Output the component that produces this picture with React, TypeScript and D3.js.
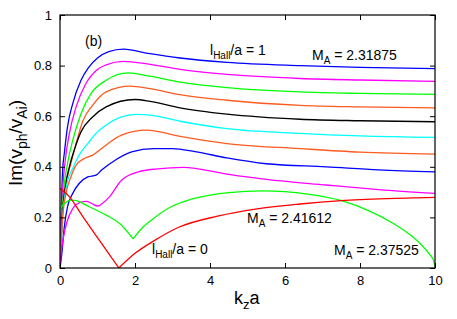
import { useEffect, useRef } from 'react'
import * as d3 from 'd3'

const WIDTH = 457
const HEIGHT = 319
const MARGIN = { top: 15, right: 22, bottom: 51, left: 60 }
const FONT = '"Liberation Sans", Arial, Helvetica, sans-serif'

type Pt = [number, number]

// curves, from l_Hall/a = 1 (top) down to l_Hall/a = 0
const hall10: Pt[] = [[0, 0], [0.03, 0.2], [0.07, 0.387], [0.115, 0.453], [0.2, 0.558], [0.34, 0.65], [0.56, 0.742], [0.75, 0.79], [1.0, 0.83], [1.3, 0.855], [1.69, 0.865], [2.4, 0.847], [3.2, 0.83], [4.45, 0.813], [6.4, 0.8], [8, 0.793], [10, 0.788]]
const hall09: Pt[] = [[0, 0], [0.04, 0.2], [0.08, 0.33], [0.14, 0.426], [0.25, 0.532], [0.43, 0.637], [0.69, 0.729], [1.0, 0.785], [1.23, 0.803], [1.69, 0.817], [2.4, 0.805], [3.2, 0.785], [4.45, 0.765], [6.4, 0.749], [8, 0.743], [10, 0.738]]
const hall08: Pt[] = [[0, 0], [0.05, 0.2], [0.1, 0.31], [0.2, 0.413], [0.34, 0.505], [0.56, 0.61], [0.83, 0.69], [1.23, 0.742], [1.82, 0.771], [2.4, 0.758], [3.2, 0.735], [4.45, 0.713], [6.4, 0.696], [8, 0.69], [10, 0.686]]
const hall07: Pt[] = [[0, 0], [0.06, 0.2], [0.15, 0.32], [0.29, 0.413], [0.43, 0.492], [0.6, 0.578], [0.87, 0.643], [1.23, 0.696], [1.87, 0.719], [2.4, 0.709], [3.2, 0.685], [4.45, 0.663], [6.4, 0.643], [8, 0.637], [10, 0.633]]
const hall06: Pt[] = [[0, 0], [0.06, 0.2], [0.15, 0.33], [0.25, 0.4], [0.38, 0.466], [0.56, 0.538], [0.87, 0.597], [1.23, 0.637], [2.0, 0.666], [2.4, 0.659], [3.2, 0.633], [4.45, 0.608], [6.4, 0.588], [8, 0.582], [10, 0.578]]
const hall05: Pt[] = [[0, 0], [0.07, 0.2], [0.18, 0.33], [0.34, 0.394], [0.51, 0.446], [0.74, 0.492], [0.96, 0.532], [1.23, 0.565], [1.6, 0.595], [2.04, 0.607], [2.4, 0.604], [3.2, 0.58], [4.45, 0.551], [6.4, 0.532], [8, 0.522], [10, 0.516]]
const hall04: Pt[] = [[0, 0], [0.07, 0.2], [0.16, 0.295], [0.29, 0.36], [0.43, 0.407], [0.56, 0.425], [0.65, 0.433], [0.87, 0.446], [1.0, 0.46], [1.23, 0.486], [1.64, 0.525], [2.31, 0.545], [3.2, 0.52], [4.45, 0.492], [6.4, 0.472], [8, 0.458], [10, 0.45]]
const hall03: Pt[] = [[0, 0], [0.05, 0.058], [0.115, 0.163], [0.2, 0.242], [0.34, 0.295], [0.51, 0.334], [0.74, 0.36], [0.96, 0.367], [1.11, 0.387], [1.47, 0.426], [1.91, 0.459], [2.5, 0.472], [3.0, 0.472], [3.6, 0.46], [4.45, 0.435], [5.5, 0.412], [7.1, 0.4], [8.5, 0.388], [10, 0.38]]
const hall02: Pt[] = [[0, 0], [0.03, 0.06], [0.09, 0.12], [0.18, 0.18], [0.34, 0.235], [0.56, 0.26], [0.7, 0.263], [0.85, 0.255], [1.0, 0.245], [1.15, 0.258], [1.3, 0.278], [1.64, 0.347], [2.09, 0.38], [2.6, 0.392], [3.29, 0.398], [4.45, 0.371], [5.5, 0.35], [7.1, 0.328], [8.5, 0.31], [10, 0.295]]
const hall01: Pt[] = [[0, 0.235], [0.12, 0.255], [0.3, 0.268], [0.43, 0.266], [0.78, 0.242], [1.23, 0.209], [1.6, 0.175], [1.95, 0.115], [2.2, 0.16], [2.4, 0.185], [3.0, 0.245], [3.5, 0.272], [4.5, 0.298], [5.4, 0.305], [6.6, 0.292], [7.51, 0.266], [8.3, 0.222], [8.89, 0.176], [9.3, 0.135], [9.6, 0.097], [9.85, 0.055], [9.96, 0.03], [10, 0.005]]
const hall00: Pt[] = [[0, 0.315], [0.25, 0.282], [0.6, 0.205], [1.0, 0.12], [1.3, 0.057], [1.57, 0.0], [2.0, 0.058], [2.5, 0.107], [3.15, 0.16], [4.2, 0.205], [5.3, 0.235], [6.4, 0.253], [7.5, 0.266], [8.7, 0.274], [10, 0.279]]

const seriesData = [hall10, hall09, hall08, hall07, hall06, hall05, hall04, hall03, hall02, hall01, hall00]
const seriesColors = ['#0000ff', '#ff00ff', '#00ff00', '#ff5a20', '#000000', '#00ffff', '#ff5a20', '#0000ff', '#ff00ff', '#00ff00', '#ff0000']
// kz of sharp minima, where the curve is split so the kink stays sharp
const seriesCusps = [[], [], [], [], [], [], [], [], [], [1.95], [1.57]]

const xTicks = [0, 2, 4, 6, 8, 10]
const yTicks = [0, 0.2, 0.4, 0.6, 0.8, 1]

export default function App() {
  const svgRef = useRef<SVGSVGElement>(null)

  useEffect(() => {
    const svgEl = svgRef.current
    if (!svgEl) return
    const svg = d3.select(svgEl)
    svg.selectAll('*').remove()

    const innerWidth = WIDTH - MARGIN.left - MARGIN.right
    const innerHeight = HEIGHT - MARGIN.top - MARGIN.bottom
    const x = d3.scaleLinear([0, 10], [0, innerWidth])
    const y = d3.scaleLinear([0, 1], [innerHeight, 0])

    const g = svg.append('g').attr('transform', `translate(${MARGIN.left},${MARGIN.top})`)

    // ── Curves ─────────────────────────────────────────────────────────────
    const clip = svg.append('defs').append('clipPath').attr('id', 'plot-clip')
    clip.append('rect').attr('width', innerWidth).attr('height', innerHeight)

    const line = d3.line<Pt>().x(d => x(d[0])).y(d => y(d[1])).curve(d3.curveMonotoneX)
    const curves = g.append('g').attr('clip-path', 'url(#plot-clip)')
    seriesData.forEach((pts, i) => {
      const cuts = seriesCusps[i]
      const pieces: Pt[][] = [[]]
      pts.forEach(p => {
        pieces[pieces.length - 1].push(p)
        if (cuts.includes(p[0])) pieces.push([p])
      })
      pieces.filter(p => p.length > 1).forEach(piece => {
        curves.append('path')
          .attr('d', line(piece) ?? '')
          .attr('fill', 'none').attr('stroke', seriesColors[i]).attr('stroke-width', 1.3)
      })
    })

    // ── Axes (ticks mirrored, pointing inward) ─────────────────────────────
    const styleAxis = (ag: d3.Selection<SVGGElement, unknown, null, undefined>) => {
      ag.select('.domain').remove()
      ag.selectAll('.tick line').attr('stroke', '#000').attr('stroke-width', 1)
      ag.selectAll('text').attr('fill', '#000').attr('font-size', 13).attr('font-family', FONT)
    }
    g.append('g').attr('transform', `translate(0,${innerHeight})`)
      .call(d3.axisBottom(x).tickValues(xTicks).tickSize(-5).tickPadding(8).tickFormat(d => String(d)))
      .call(styleAxis)
    g.append('g')
      .call(d3.axisTop(x).tickValues(xTicks).tickSize(-5).tickFormat(() => ''))
      .call(styleAxis)
    g.append('g')
      .call(d3.axisLeft(y).tickValues(yTicks).tickSize(-5).tickPadding(8).tickFormat(d => String(d)))
      .call(styleAxis)
    g.append('g').attr('transform', `translate(${innerWidth},0)`)
      .call(d3.axisRight(y).tickValues(yTicks).tickSize(-5).tickFormat(() => ''))
      .call(styleAxis)

    g.append('rect')
      .attr('width', innerWidth).attr('height', innerHeight)
      .attr('fill', 'none').attr('stroke', '#000').attr('stroke-width', 1.2)

    // ── Axis titles ────────────────────────────────────────────────────────
    const yTitle = svg.append('text')
      .attr('transform', `translate(22,143) rotate(-90)`)
      .attr('text-anchor', 'middle').attr('font-family', FONT).attr('font-size', 19).attr('fill', '#000')
    yTitle.append('tspan').text('Im(v')
    yTitle.append('tspan').attr('dy', 5).attr('font-size', 14).text('ph')
    yTitle.append('tspan').attr('dy', -5).text('/v')
    yTitle.append('tspan').attr('dy', 5).attr('font-size', 14).text('Ai')
    yTitle.append('tspan').attr('dy', -5).text(')')

    const xTitle = svg.append('text')
      .attr('x', 234).attr('y', 304)
      .attr('font-family', FONT).attr('font-size', 18).attr('fill', '#000')
    xTitle.append('tspan').text('k')
    xTitle.append('tspan').attr('dy', 5).attr('font-size', 13).text('z')
    xTitle.append('tspan').attr('dy', -5).text('a')

    // ── Annotations ────────────────────────────────────────────────────────
    const note = (px: number, py: number, main: string, sub: string, rest: string) => {
      const t = svg.append('text')
        .attr('x', px).attr('y', py)
        .attr('font-family', FONT).attr('font-size', 14).attr('fill', '#000')
      t.append('tspan').text(main)
      if (sub) {
        t.append('tspan').attr('dy', 4).attr('font-size', 10).text(sub)
        t.append('tspan').attr('dy', -4).text(rest)
      }
    }
    note(85, 46, '(b)', '', '')
    note(210, 55, 'l', 'Hall', '/a = 1')
    note(312, 60, 'M', 'A', ' = 2.31875')
    note(247, 223, 'M', 'A', ' = 2.41612')
    note(334, 255, 'M', 'A', ' = 2.37525')
    note(152, 254, 'l', 'Hall', '/a = 0')
  }, [])

  return (
    <svg
      ref={svgRef}
      width={WIDTH}
      height={HEIGHT}
      style={{ position: 'absolute', left: 0, top: 0, background: '#fff' }}
    />
  )
}
